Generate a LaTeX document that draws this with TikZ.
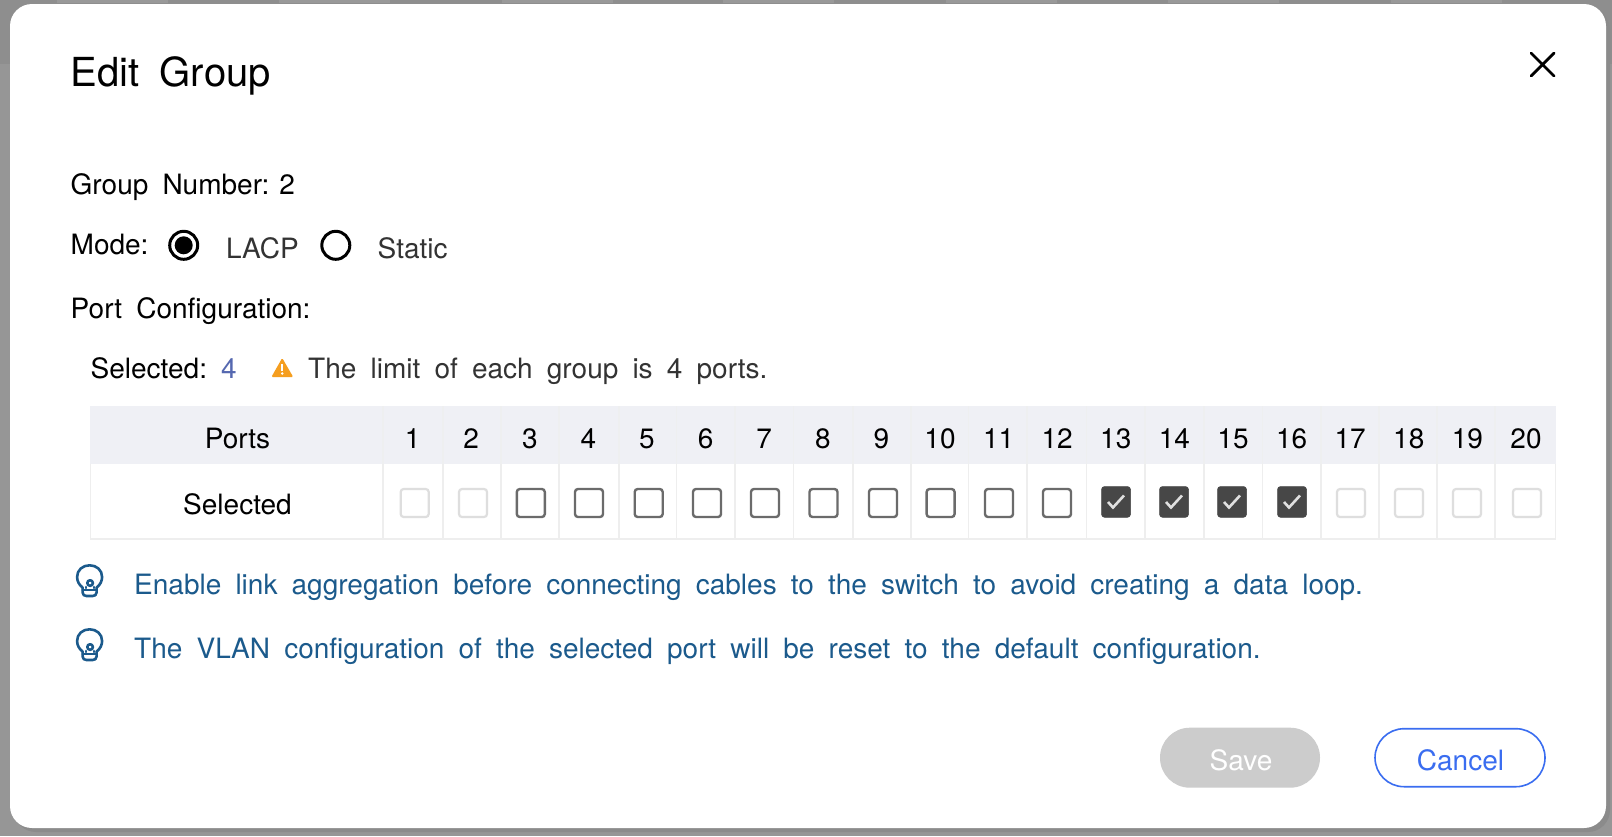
\documentclass[tikz,border=0pt]{standalone}
\usepackage{fontspec}
\setmainfont[WordSpace=1.82]{TeX Gyre Heros}
\newcommand{\nsp}{\hspace{10pt}}
\definecolor{bgc}{HTML}{969696}
\definecolor{bgt}{HTML}{8E8E8E}
\definecolor{bgl}{HTML}{999999}
\definecolor{bgd}{HTML}{8B8B8B}
\definecolor{headc}{HTML}{EFF0F5}
\definecolor{gridc}{HTML}{EEEEEE}
\definecolor{tipc}{HTML}{1B5A8C}
\definecolor{txtc}{HTML}{333333}
\definecolor{numc}{HTML}{5568B0}
\definecolor{warnc}{HTML}{F59E1F}
\definecolor{blu}{HTML}{3A6DF0}
\tikzset{
  lbl/.style={anchor=base west,inner sep=0pt,font=\fontsize{28}{32}\selectfont,text=black},
  ctr/.style={anchor=base,inner sep=0pt,font=\fontsize{28}{32}\selectfont,text=black},
  tip/.style={lbl,text=tipc},
  gridl/.style={draw=gridc,line width=1.5pt},
  cbon/.style={draw=black!58,line width=2.4pt,fill=white,rounded corners=3pt},
  cboff/.style={draw=black!13,line width=2.2pt,fill=white,rounded corners=3pt},
  cbchk/.style={fill=black!72,draw=black!72,line width=.5pt,rounded corners=3pt},
  radio/.style={draw=black,line width=3pt,circle,minimum size=28pt,inner sep=0pt},
  tipicon/.style={draw=tipc,line width=2.6pt,line cap=round,line join=round},
}
\begin{document}
\begin{tikzpicture}[x=1pt,y=-1pt]
\useasboundingbox (0,0) rectangle (1612,836);
\fill[bgc] (0,0) rectangle (1612,836);
\fill[bgt] (0,0) rectangle (1612,64);
\foreach \sx in {57,279,502,723,946,1168,1391}{
  \fill[bgl] (\sx,0) rectangle (\sx+111,3);
}
\fill[bgd,rounded corners=22pt] (14,8) rectangle (1610,832);
\fill[white,rounded corners=22pt] (10,4) rectangle (1606,828);
% title and close
\node[lbl,font=\fontsize{40}{44}\selectfont] (title) at (70.5,86) {Edit Group};
\coordinate (xa) at (1531,53); \coordinate (xb) at (1554,76);
\coordinate (xc) at (1554,53); \coordinate (xd) at (1531,76);
\draw[line width=2.8pt,line cap=round] (xa) -- (xb) (xc) -- (xd);
% form
\node[lbl] (grp) at (70.5,194) {Group Number:\nsp 2};
\node[lbl] (mode) at (70.5,254) {Mode:};
\node[radio] (r1) at (183.7,245.3) {};
\fill (r1) circle (9pt);
\node[lbl,text=txtc] (lacp) at (226,258) {LACP};
\node[radio] (r2) at (335.8,245.3) {};
\node[lbl,text=txtc] (static) at (377.5,258) {Static};
\node[lbl] (port) at (70.5,318) {Port Configuration:};
\node[lbl] (sel) at (90.5,378) {Selected:};
\node[lbl,text=numc] (four) at (221,378) {4};
\fill[warnc,rounded corners=1.2pt] (282.2,358) -- (293.2,377) -- (271.4,377) -- cycle;
\fill[white] (281.2,363.5) rectangle (283.3,371);
\fill[white] (282.25,373.5) circle (1.3pt);
\node[lbl,text=txtc] (limit) at (308,378) {The limit of each group is 4 ports.};
% table
\fill[headc] (90,406) rectangle (1556,463.5);
\draw[gridl] (90.7,463.5) -- (90.7,538.8) -- (1555.3,538.8) -- (1555.3,463.5);
\foreach \lx in {383,443,501,559,619,676.5,735,793.7,853,911,968.5,1027,1086.7,1145,1204,1262.5,1321,1379,1437,1495}{
  \draw[gridl] (\lx,463.5) -- (\lx,538);
  \draw[draw=gridc!70!headc,line width=1.5pt] (\lx,406) -- (\lx,463.5);
}
\node[ctr] (ports) at (237.5,448) {Ports};
\node[ctr] (selrow) at (237.5,514) {Selected};
\foreach \n/\cx in {1/412.6,2/471.2,3/529.8,4/588.4,5/647,6/705.6,7/764.2,8/822.8,9/881.4,10/940,11/998.6,12/1057.2,13/1115.8,14/1174.4,15/1233,16/1291.6,17/1350.2,18/1408.8,19/1467.4,20/1526}{
  \node[ctr] (h\n) at (\cx,448) {\n};
}
\foreach \n/\cx in {1/414.7,2/473,17/1351,18/1409,19/1467,20/1527}{
  \draw[cboff] (\cx-14,489) rectangle (\cx+14,517);
}
\foreach \n/\cx in {3/530.8,4/589,5/648.7,6/707,7/765,8/823.5,9/883,10/940.6,11/999,12/1057}{
  \draw[cbon] (\cx-14,489) rectangle (\cx+14,517);
}
\foreach \n/\cx in {13/1116,14/1174,15/1232,16/1292}{
  \draw[cbchk] (\cx-14.5,486.5) rectangle (\cx+14.5,517.3);
  \draw[draw=black!12,line width=2.6pt] (\cx-8,502) -- (\cx-3,507.5) -- (\cx+8,495.5);
}
% tips
\foreach \i/\ty in {a/564,b/628}{
  \begin{scope}[shift={(89.6,\ty)}]
    \draw[tipicon] (-7,23.5) .. controls (-10.5,21) and (-12.5,17) .. (-12.5,13)
       .. controls (-12.5,6) and (-7,1.3) .. (0,1.3)
       .. controls (7,1.3) and (12.5,6) .. (12.5,13)
       .. controls (12.5,17) and (10.5,21) .. (7,23.5);
    \draw[tipicon] (-7,23.5) -- (-7,28.5) .. controls (-7,31) and (-5,32) .. (-3,32) -- (3,32) .. controls (5,32) and (7,31) .. (7,28.5) -- (7,23.5);
    \draw[tipicon] (-7,26) -- (7,26);
    \draw[tipicon] (0.5,19) circle (2.8pt);
    \draw[tipicon] (-3.5,24) -- (-3.5,23) (4.5,24) -- (4.5,23);
  \end{scope}
}
\node[tip] (t1) at (134,594) {Enable link aggregation before connecting cables to the switch to avoid creating a data loop.};
\node[tip] (t2) at (134,658) {The VLAN configuration of the selected port will be reset to the default configuration.};
% buttons
\node[fill=black!20,rounded corners=29.9pt,minimum width=160pt,minimum height=60pt,inner sep=0pt] (save) at (1240,757.7) {};
\node[ctr,text=white] (savet) at (1241,770) {Save};
\node[draw=blu,line width=1.6pt,fill=white,rounded corners=29pt,minimum width=170pt,minimum height=58pt,inner sep=0pt] (cancel) at (1460,757.7) {};
\node[ctr,text=blu] (cancelt) at (1460.5,770) {Cancel};
\end{tikzpicture}
\end{document}
